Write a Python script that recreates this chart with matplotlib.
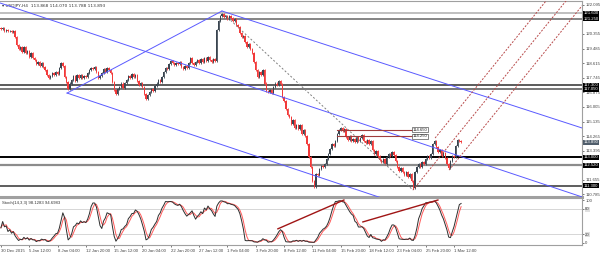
import matplotlib
matplotlib.use("Agg")
import matplotlib.pyplot as plt
from matplotlib.transforms import blended_transform_factory
import numpy as np
import pandas as pd

plt.rcParams["font.family"] = ["Liberation Sans", "DejaVu Sans"]

# USDJPY H4 closes, 30 Dec 2015 .. 1 Mar 2016
closes = [
    120.65, 120.70, 120.55, 120.60, 120.50, 120.55, 120.45, 120.50,
    120.20, 119.70, 119.45, 119.60, 119.30, 119.55, 119.20,
    119.35, 119.00, 119.20, 118.90, 118.80, 118.55, 118.70, 118.45, 118.60, 118.40,
    118.20, 117.90, 117.70, 117.85, 118.00, 117.90, 118.10, 117.95,
    118.30, 118.60, 118.45, 117.80, 117.50, 117.05, 117.40,
    117.60, 117.85, 117.55, 117.90, 117.75, 117.90, 117.70, 117.85, 117.80,
    118.00, 118.20, 118.35, 118.25, 118.40, 118.10, 117.70, 117.85,
    118.00, 118.25, 118.10, 118.30, 118.20, 118.05,
    117.50, 117.00, 116.75, 117.10, 117.20, 117.40, 117.15, 117.45,
    117.60, 117.85, 117.70, 117.95, 117.80, 117.90, 117.55, 117.30, 117.45, 117.20,
    116.80, 116.45, 116.70, 116.90, 117.10, 116.95,
    117.25, 117.40, 117.60, 117.50, 117.80, 118.10, 118.30, 118.25,
    118.55, 118.75, 118.60, 118.50, 118.65, 118.55, 118.70,
    118.40, 118.25, 118.45, 118.30, 118.60, 118.90, 118.65, 118.50,
    118.70, 118.80, 118.60,
    118.85, 118.70, 118.90, 118.75, 118.95, 118.80, 118.70, 118.85, 118.75,
    120.60, 121.10, 121.40, 121.55,
    121.35, 121.45, 121.25, 121.40, 121.30, 121.15, 121.25,
    120.90, 120.75, 120.40, 120.15, 120.25,
    119.85, 119.60, 119.75, 119.45, 119.20, 118.70, 118.20, 117.80,
    118.10, 117.90, 118.20, 117.40, 116.95, 116.90, 117.00, 116.85,
    117.20, 117.40, 117.30, 117.55, 117.35, 116.60, 116.35, 115.90, 115.50,
    115.40, 115.00, 115.20, 114.75, 114.90, 114.70, 114.90, 114.40, 114.60, 114.30,
    113.80, 113.00, 112.40, 111.60, 111.25, 112.00, 111.95,
    112.30, 112.50, 112.40, 112.60, 112.90, 113.20,
    113.50, 113.80, 113.70, 113.95, 114.40, 114.60, 114.75, 114.55, 114.70,
    114.20, 114.05, 114.25, 113.95, 114.10, 113.90, 114.20, 114.00, 114.15,
    114.35, 114.00, 113.85, 114.05, 113.80, 113.95,
    113.45, 113.20, 113.35, 113.05, 112.85, 112.70, 112.90, 112.60,
    113.00, 113.20, 113.10, 113.30, 113.15, 112.80, 112.40,
    112.20, 112.35, 112.10, 111.95, 112.15, 111.85, 112.00, 111.60, 111.20,
    112.10, 112.40, 112.60, 112.45, 112.75, 112.60,
    112.90, 113.05, 112.95, 113.20, 113.80, 114.00,
    113.60, 113.30, 113.45, 113.10, 113.25, 112.95, 112.60, 112.35,
    112.80, 113.10, 113.00, 113.70, 114.05, 113.95, 113.89,
]
first_open = 120.70

date_labels = ["30 Dec 2015", "5 Jan 12:00", "8 Jan 04:00", "12 Jan 20:00", "15 Jan 12:00",
               "20 Jan 04:00", "22 Jan 20:00", "27 Jan 12:00", "1 Feb 04:00", "3 Feb 20:00",
               "8 Feb 12:00", "11 Feb 04:00", "15 Feb 20:00", "18 Feb 12:00", "23 Feb 04:00",
               "25 Feb 20:00", "1 Mar 12:00"]

# scale labels not hidden behind the level boxes
price_ticks = [110.785, 111.655, 113.395, 114.265, 115.135, 116.005,
               116.875, 117.745, 118.615, 119.485, 120.355, 122.095]

# horizontal support / resistance levels and their colours
levels = [121.600, 121.250, 117.300, 117.050, 113.000, 112.520, 111.300]
level_colors = ["#b4b4b4", "#707070", "#404040", "#606060", "#000000", "#8c8c8c", "#505050"]
level_widths = [1.2, 1.2, 1.2, 1.2, 1.4, 1.6, 1.3]

# blue channel lines: (bar, price) anchors
blue_rays = [((124.9, 121.72), (328.3, 114.75)),
             ((-0.5, 122.20), (328.3, 110.64)),
             ((37.4, 116.83), (210.2, 110.75))]
blue_segment = ((37.4, 116.83), (124.9, 121.72))
gray_segment = ((126.6, 121.48), (232.8, 111.05))

# Andrews pitchfork pivots A, B, C
fork_a = (232.8, 111.05)
fork_b = (245.3, 114.15)
fork_c = (253.2, 112.24)

# red horizontal marks with price boxes
marks = [114.650, 114.250]
mark_x = (189.9, 232.3)

# trendlines on the stochastic
stoch_lines = [((156.5, 33), (193.8, 100)), ((204.5, 49), (246.9, 100))]

BULL = "#3a4550"
BEAR = "#f23a3a"
W, H = 600, 257
XMAX = 328.3
WICK = 0.06
FS = 3.1


def px_box(x0, y0, x1, y1):
    return [x0 / W, 1 - y1 / H, (x1 - x0) / W, (y1 - y0) / H]


def ray(p, q, x_end=XMAX):
    slope = (q[1] - p[1]) / (q[0] - p[0])
    return [p[0], x_end], [p[1], p[1] + slope * (x_end - p[0])]


c = np.array(closes)
o = np.r_[first_open, c[:-1]]
hi = np.maximum(o, c) + WICK
lo = np.minimum(o, c) - WICK
idx = np.arange(len(c))
up = c >= o

# Stochastic 14,3,3
df = pd.DataFrame({"h": hi, "l": lo, "c": c})
ll = df.l.rolling(14, min_periods=1).min()
hh = df.h.rolling(14, min_periods=1).max()
k_line = 100 * (df.c - ll).rolling(3, min_periods=1).sum() / (hh - ll).rolling(3, min_periods=1).sum()
d_line = k_line.rolling(3, min_periods=1).mean()

fig = plt.figure(figsize=(6, 2.57), dpi=100)
fig.patch.set_facecolor("white")
ax = fig.add_axes(px_box(0, 1, 582, 197))
sx = fig.add_axes(px_box(0, 198, 582, 245))

# candles
cols = np.where(up, BULL, BEAR)
ax.vlines(idx, lo, hi, colors=cols, lw=0.6, zorder=3)
ax.bar(idx, np.maximum(np.abs(c - o), 0.02), bottom=np.minimum(o, c), width=0.75,
       color=cols, lw=0, zorder=3)

for lev, col, lw in zip(levels, level_colors, level_widths):
    ax.axhline(lev, color=col, lw=lw, zorder=2)

for p, q in blue_rays:
    xs, ys = ray(p, q)
    ax.plot(xs, ys, color="#5a5aff", lw=0.7, zorder=4)
ax.plot(*zip(*blue_segment), color="#5a5aff", lw=0.7, zorder=4)
ax.plot(*zip(*gray_segment), color="#808080", lw=0.7, ls=(0, (2, 2)), zorder=4)

# pitchfork
mid = ((fork_b[0] + fork_c[0]) / 2, (fork_b[1] + fork_c[1]) / 2)
slope = (mid[1] - fork_a[1]) / (mid[0] - fork_a[0])
for p in (fork_a, fork_b, fork_c):
    ax.plot([p[0], XMAX], [p[1], p[1] + slope * (XMAX - p[0])],
            color="#b84a4a", lw=0.7, ls=(0, (2, 1.5)), zorder=4)

for m in marks:
    ax.plot(mark_x, [m, m], color="#a03c3c", lw=0.8, zorder=4)
    ax.text(mark_x[1] + 0.3, m, f"{m:.3f}", fontsize=FS, va="center", ha="left", color="#222",
            bbox=dict(boxstyle="square,pad=0.12", fc="white", ec="#555", lw=0.5), zorder=6)

ax.set_xlim(-0.5, XMAX)
ax.set_ylim(110.636, 122.317)
ax.yaxis.tick_right()
ax.set_yticks(price_ticks)
ax.set_yticklabels([f"{t:.3f}" for t in price_ticks])
ax.tick_params(axis="y", labelsize=FS, colors="#444", length=1.5, width=0.5, pad=0.8)
ax.set_xticks([])
for s in ax.spines.values():
    s.set_color("#a0a0a0")
    s.set_linewidth(0.8)
ax.spines["left"].set_visible(False)
ax.spines["bottom"].set_linewidth(2.2)

# highlighted price labels on the right axis
tr = blended_transform_factory(ax.transAxes, ax.transData)
for lev in levels:
    ax.text(1.003, lev, f"{lev:.3f}", transform=tr, fontsize=FS, color="white", va="center",
            ha="left", bbox=dict(boxstyle="square,pad=0.12", fc="black", ec="none"),
            zorder=10, clip_on=False)
ax.text(1.003, c[-1], f"{c[-1]:.3f}", transform=tr, fontsize=FS, color="white", va="center",
        ha="left", bbox=dict(boxstyle="square,pad=0.12", fc="#4f5d6b", ec="none"),
        zorder=10, clip_on=False)

ax.text(0.003, 0.985, "\u25be USDJPY,H4  113.868 114.070 113.788 113.893", transform=ax.transAxes,
        fontsize=FS, color="#333", va="top", ha="left", family=["DejaVu Sans"])

# stochastic panel
sx.axhline(80, color="#d0d0d0", lw=0.6)
sx.axhline(20, color="#d0d0d0", lw=0.6)
sx.plot(idx, d_line, color="#ff5a5a", lw=0.7)
sx.plot(idx, k_line, color="#2e2e2e", lw=0.7)
for p, q in stoch_lines:
    sx.plot(*zip(p, q), color="#a01515", lw=1.0)
sx.text(0.004, 0.93, "Stoch(14,3,3) 98.1283 94.6983", transform=sx.transAxes,
        fontsize=FS, color="#333", va="top", ha="left")
sx.set_xlim(-0.5, XMAX)
sx.set_ylim(-4.7, 104.7)
sx.yaxis.tick_right()
sx.set_yticks([0, 20, 80, 100])
sx.set_yticklabels(["0", "20", "80", "100"])
sx.tick_params(axis="y", labelsize=FS, colors="#444", length=1.5, width=0.5, pad=0.8)
for lbl in sx.get_yticklabels():
    if lbl.get_text() in ("20", "80"):
        lbl.set_bbox(dict(boxstyle="square,pad=0.1", fc="#e0e0e0", ec="none"))
sx.set_xticks(np.arange(len(date_labels)) * 16)
sx.set_xticklabels(date_labels, ha="left")
sx.tick_params(axis="x", labelsize=FS, colors="#444", length=1.5, width=0.5, pad=1.5)
for s in sx.spines.values():
    s.set_color("#a0a0a0")
    s.set_linewidth(0.8)
sx.spines["left"].set_visible(False)

fig.savefig("out.png", dpi=100)
